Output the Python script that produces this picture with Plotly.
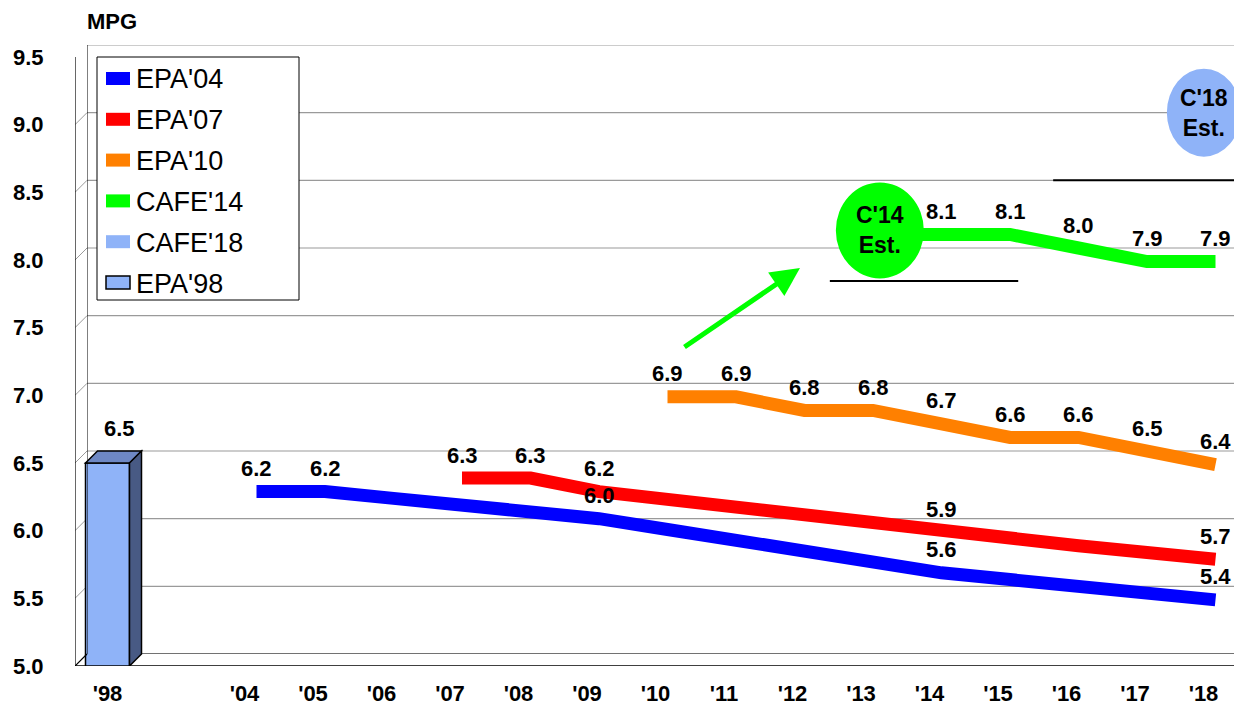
import plotly.graph_objects as go

# ---------------------------------------------------------------- data
categories = ["'98", "", "'04", "'05", "'06", "'07", "'08", "'09", "'10",
              "'11", "'12", "'13", "'14", "'15", "'16", "'17", "'18"]

epa98_x = ["'98"]
epa98_y = [6.5]

epa04_x = ["'04", "'05", "'06", "'07", "'08", "'09", "'10", "'11", "'12",
           "'13", "'14", "'15", "'16", "'17", "'18"]
epa04_y = [6.2, 6.2, 6.15, 6.1, 6.05, 6.0, 5.92, 5.84, 5.76, 5.68, 5.6,
           5.55, 5.5, 5.45, 5.4]
epa04_labeled = ["'04", "'05", "'09", "'14", "'18"]

epa07_x = ["'07", "'08", "'09", "'10", "'11", "'12", "'13", "'14", "'15",
           "'16", "'17", "'18"]
epa07_y = [6.3, 6.3, 6.2, 6.14, 6.08, 6.02, 5.96, 5.9, 5.85, 5.8, 5.75, 5.7]
epa07_labeled = ["'07", "'08", "'09", "'14", "'18"]

epa10_x = ["'10", "'11", "'12", "'13", "'14", "'15", "'16", "'17", "'18"]
epa10_y = [6.9, 6.9, 6.8, 6.8, 6.7, 6.6, 6.6, 6.5, 6.4]
epa10_labeled = epa10_x

cafe14_x = ["'13", "'14", "'15", "'16", "'17", "'18"]
cafe14_y = [8.1, 8.1, 8.1, 8.0, 7.9, 7.9]
cafe14_labeled = ["'14", "'15", "'16", "'17", "'18"]

y_ticks = [5.0, 5.5, 6.0, 6.5, 7.0, 7.5, 8.0, 8.5, 9.0, 9.5]
x_tick_labels = ["'98", "'04", "'05", "'06", "'07", "'08", "'09", "'10",
                 "'11", "'12", "'13", "'14", "'15", "'16", "'17", "'18"]

legend_items = ["EPA'04", "EPA'07", "EPA'10", "CAFE'14", "CAFE'18", "EPA'98"]

# ---------------------------------------------------------------- style
BLUE, RED, ORANGE, GREEN = "#0000FF", "#FF0000", "#FF8000", "#00FF00"
LIGHT = "#8FB3F8"
BAR_TOP, BAR_SIDE = "#6E88C4", "#485A84"
GRID = "#9A9A9A"
FONT = "Liberation Sans, Arial, sans-serif"
colors = [BLUE, RED, ORANGE, GREEN, LIGHT, LIGHT]

W, H = 1234, 707
Y_MIN, Y_MAX = 5.0, 9.5

# front plane (bar + axis labels) and back wall (lines), in pixels
FRONT_L, FRONT_R, FRONT_T, FRONT_B = 75, 1222, 57, 666
DEPTH = 12
BACK_L, BACK_R = FRONT_L + DEPTH, FRONT_R + DEPTH
BACK_T, BACK_B = FRONT_T - DEPTH, FRONT_B - DEPTH
SLOT = 68.5                      # px per category
FIRST_CENTER = 107.5             # px of the first category on front plane

x_lo = (FRONT_L - FIRST_CENTER) / SLOT
x_hi = x_lo + (FRONT_R - FRONT_L) / SLOT
px_per_y = (FRONT_B - FRONT_T) / (Y_MAX - Y_MIN)
DX = DEPTH / SLOT
DY = DEPTH / px_per_y

def idx(labels):
    return [categories.index(c) for c in labels]

def px(v):
    return v / W

def py(v):
    return 1 - v / H

fig = go.Figure()

# ---------------------------------------------------------------- bar
BAR_W = 44 / SLOT
fig.add_trace(go.Bar(
    x=idx(epa98_x), y=epa98_y, width=BAR_W, xaxis="x", yaxis="y",
    marker=dict(color=LIGHT, line=dict(color="black", width=1.5)),
    showlegend=False, hoverinfo="skip"))

# ---------------------------------------------------------------- lines on back wall
series = [
    (epa04_x, epa04_y, epa04_labeled, BLUE),
    (epa07_x, epa07_y, epa07_labeled, RED),
    (epa10_x, epa10_y, epa10_labeled, ORANGE),
    (cafe14_x, cafe14_y, cafe14_labeled, GREEN),
]
for xs, ys, _, col in series:
    fig.add_trace(go.Scatter(
        x=idx(xs), y=ys, mode="lines", xaxis="x2", yaxis="y2",
        line=dict(color=col, width=13), showlegend=False, hoverinfo="skip"))

annotations = []
LABEL_SHIFT = 23
label_font = dict(family=FONT, size=22, color="black", weight="bold")
for xs, ys, labeled, _ in series:
    for c, v in zip(xs, ys):
        if c in labeled:
            annotations.append(dict(
                x=categories.index(c), y=v, xref="x2", yref="y2",
                text=f"{v:.1f}", showarrow=False, yshift=LABEL_SHIFT,
                font=label_font))
for c, v in zip(epa98_x, epa98_y):
    annotations.append(dict(
        x=categories.index(c), y=v, xref="x2", yref="y2", text=f"{v:.1f}",
        showarrow=False, yshift=LABEL_SHIFT, font=label_font))

# ---------------------------------------------------------------- walls
shapes = []
for v in y_ticks:
    shapes.append(dict(type="line", xref="x2 domain", yref="y2", x0=0, x1=1,
                       y0=v, y1=v, line=dict(color=GRID, width=1.2),
                       layer="below"))
    shapes.append(dict(type="line", xref="x", yref="y", x0=x_lo, x1=x_lo + DX,
                       y0=v, y1=v + DY, line=dict(color=GRID, width=1),
                       layer="below"))
# back floor edge
shapes.append(dict(type="line", xref="x2 domain", yref="y2", x0=0, x1=1,
                   y0=Y_MIN, y1=Y_MIN, line=dict(color="#555555", width=1.5),
                   layer="below"))
# left edges
shapes.append(dict(type="line", xref="x", yref="y", x0=x_lo, x1=x_lo,
                   y0=Y_MIN, y1=Y_MAX, line=dict(color="black", width=1.2)))
shapes.append(dict(type="line", xref="x2", yref="y2", x0=x_lo, x1=x_lo,
                   y0=Y_MIN, y1=Y_MAX, line=dict(color="black", width=1),
                   layer="below"))
shapes.append(dict(type="line", xref="x", yref="y", x0=x_lo, x1=x_lo + DX,
                   y0=Y_MIN, y1=Y_MIN + DY, line=dict(color="black", width=1.2)))
# front floor edge
shapes.append(dict(type="line", xref="paper", yref="y", x0=px(FRONT_L), x1=1,
                   y0=Y_MIN, y1=Y_MIN, line=dict(color="black", width=1.5)))

# bar top and side faces
for c, v in zip(epa98_x, epa98_y):
    i = categories.index(c)
    l, r = i - BAR_W / 2, i + BAR_W / 2
    shapes.append(dict(
        type="path", xref="x", yref="y", layer="above",
        path=f"M {l},{v} L {r},{v} L {r + DX},{v + DY} L {l + DX},{v + DY} Z",
        fillcolor=BAR_TOP, line=dict(color="black", width=1.5)))
    shapes.append(dict(
        type="path", xref="x", yref="y", layer="above",
        path=f"M {r},{v} L {r + DX},{v + DY} L {r + DX},{Y_MIN + DY} L {r},{Y_MIN} Z",
        fillcolor=BAR_SIDE, line=dict(color="black", width=1.5)))

# ---------------------------------------------------------------- estimate callouts
est_font = dict(family=FONT, size=23, color="black", weight="bold")
callouts = [
    # (x, y on back wall, half width px, half height px, fill, text)
    (11.1, 8.13, 44, 48, GREEN, "C'14<br>Est."),
    (15.83, 9.0, 37, 44, LIGHT, "C'18<br>Est."),
]
for cx, cy, hw, hh, fill, txt in callouts:
    shapes.append(dict(type="circle", xref="x2", yref="y2",
                       xsizemode="pixel", ysizemode="pixel",
                       xanchor=cx, yanchor=cy, x0=-hw, x1=hw, y0=-hh, y1=hh,
                       fillcolor=fill, line=dict(width=0), layer="above"))
    annotations.append(dict(x=cx, y=cy, xref="x2", yref="y2", text=txt,
                            showarrow=False, font=est_font, align="center"))

# target bars under the callouts
targets = [(10.37, 13.12, 7.756), (13.63, 16.4, 8.5)]
for xa, xb, yv in targets:
    shapes.append(dict(type="line", xref="x2", yref="y2", x0=xa, x1=xb,
                       y0=yv, y1=yv, line=dict(color="black", width=2),
                       layer="above"))

# arrow toward the CAFE'14 estimate
annotations.append(dict(x=9.934, y=7.852, ax=8.226, ay=7.261,
                        xref="x2", yref="y2", axref="x2", ayref="y2",
                        text="", showarrow=True, arrowhead=2, arrowsize=1.15,
                        arrowwidth=5, arrowcolor=GREEN, standoff=0))

# ---------------------------------------------------------------- legend
LEG_L, LEG_T, LEG_R, LEG_B = 97, 57, 299, 300
shapes.append(dict(type="rect", xref="paper", yref="paper",
                   x0=px(LEG_L), x1=px(LEG_R), y0=py(LEG_B), y1=py(LEG_T),
                   fillcolor="white", line=dict(color="black", width=1),
                   layer="above"))
ROW0, ROW_STEP = 78.5, 40.8
for k, (name, col) in enumerate(zip(legend_items, colors)):
    yc = ROW0 + k * ROW_STEP
    outline = dict(color="black", width=1.5) if name == "EPA'98" else dict(width=0)
    shapes.append(dict(type="rect", xref="paper", yref="paper",
                       x0=px(106), x1=px(130), y0=py(yc + 6.5), y1=py(yc - 6.5),
                       fillcolor=col, line=outline, layer="above"))
    annotations.append(dict(x=px(134), y=py(yc + 1), xref="paper", yref="paper",
                            text=name, showarrow=False, xanchor="left",
                            yanchor="middle",
                            font=dict(family=FONT, size=27, color="black")))

# axis title
annotations.append(dict(x=px(112), y=py(22), xref="paper", yref="paper",
                        text="MPG", showarrow=False, xanchor="center",
                        yanchor="middle",
                        font=dict(family=FONT, size=22, color="black",
                                  weight="bold")))

tick_font = dict(family=FONT, size=22, color="black", weight="bold")
fig.update_layout(
    width=W, height=H, margin=dict(l=0, r=0, t=0, b=0, autoexpand=False),
    paper_bgcolor="white", plot_bgcolor="rgba(0,0,0,0)",
    showlegend=False, shapes=shapes, annotations=annotations,
    xaxis=dict(domain=[px(FRONT_L), px(FRONT_R)], range=[x_lo, x_hi],
               anchor="y", tickmode="array", automargin=False,
               tickvals=[categories.index(c) for c in x_tick_labels],
               ticktext=x_tick_labels, ticks="outside", ticklen=8,
               tickcolor="rgba(0,0,0,0)", tickfont=tick_font,
               showgrid=False, zeroline=False, showline=False),
    yaxis=dict(domain=[py(FRONT_B), py(FRONT_T)], range=[Y_MIN, Y_MAX],
               anchor="x", tickmode="array", tickvals=y_ticks, automargin=False,
               ticktext=[f"{v:.1f}" for v in y_ticks], ticks="outside",
               ticklen=26, tickcolor="rgba(0,0,0,0)", tickfont=tick_font,
               showgrid=False, zeroline=False, showline=False),
    xaxis2=dict(domain=[px(BACK_L), min(1.0, px(BACK_R))],
                range=[x_lo, x_lo + (min(W, BACK_R) - BACK_L) / SLOT],
                anchor="y2", visible=False, automargin=False),
    yaxis2=dict(domain=[py(BACK_B), py(BACK_T)], range=[Y_MIN, Y_MAX],
                anchor="x2", visible=False, automargin=False),
)

fig.write_html("out.html")
